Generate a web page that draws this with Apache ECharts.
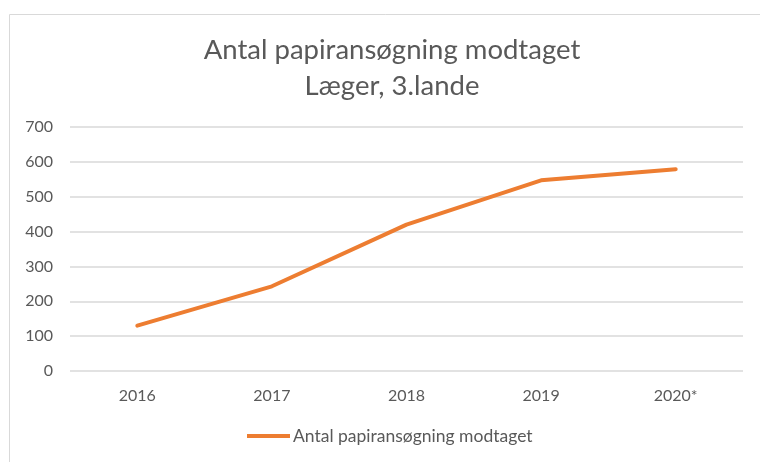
<!DOCTYPE html>
<html>
<head>
<meta charset="utf-8">
<script src="https://cdn.jsdelivr.net/npm/echarts@6/dist/echarts.min.js"></script>
<style>html,body{margin:0;padding:0;background:#fff;}#c{width:760px;height:462px;}</style>
</head>
<body>
<div id="c"></div>
<script>
const categories = ['2016', '2017', '2018', '2019', '2020*'];
const seriesName = 'Antal papiransøgning modtaget';
const values = [130, 243, 420, 547, 579];
const titleText = 'Antal papiransøgning modtaget\nLæger, 3.lande';

const chart = echarts.init(document.getElementById('c'));
const font = 'Lato, "Open Sans", sans-serif';
chart.setOption({
  animation: false,
  textStyle: { fontFamily: font },
  graphic: [{
    type: 'rect', shape: { x: 9.5, y: 14.5, width: 800, height: 500 },
    style: { fill: 'none', stroke: '#d9d9d9', lineWidth: 1 }, silent: true
  }],
  title: {
    text: titleText, left: 387, top: 27, textAlign: 'center',
    textStyle: { fontFamily: font, fontSize: 27.5, fontWeight: 'normal', color: '#595959', lineHeight: 36, align: 'center' }
  },
  legend: {
    data: [seriesName], left: 247, top: 427, padding: 0,
    icon: 'rect', itemWidth: 43, itemHeight: 4, itemGap: 0,
    textStyle: { fontFamily: font, fontSize: 17.5, color: '#595959', padding: [0, 0, 0, -2] }
  },
  grid: { left: 70, right: 17, top: 127, bottom: 91 },
  xAxis: {
    type: 'category', data: categories, boundaryGap: true,
    axisLine: { show: false }, axisTick: { show: false },
    axisLabel: { fontFamily: font, fontSize: 16, color: '#595959', margin: 17 }
  },
  yAxis: {
    type: 'value', min: 0, max: 700, interval: 100,
    axisLine: { show: false }, axisTick: { show: false },
    splitLine: { lineStyle: { color: '#d9d9d9', width: 1.5 } },
    axisLabel: { fontFamily: font, fontSize: 16, color: '#595959', margin: 17 }
  },
  series: [{
    name: seriesName, type: 'line', data: values,
    symbol: 'none', lineStyle: { color: '#ED7D31', width: 4, cap: 'round', join: 'round' },
    itemStyle: { color: '#ED7D31' }
  }]
});
</script>
</body>
</html>
